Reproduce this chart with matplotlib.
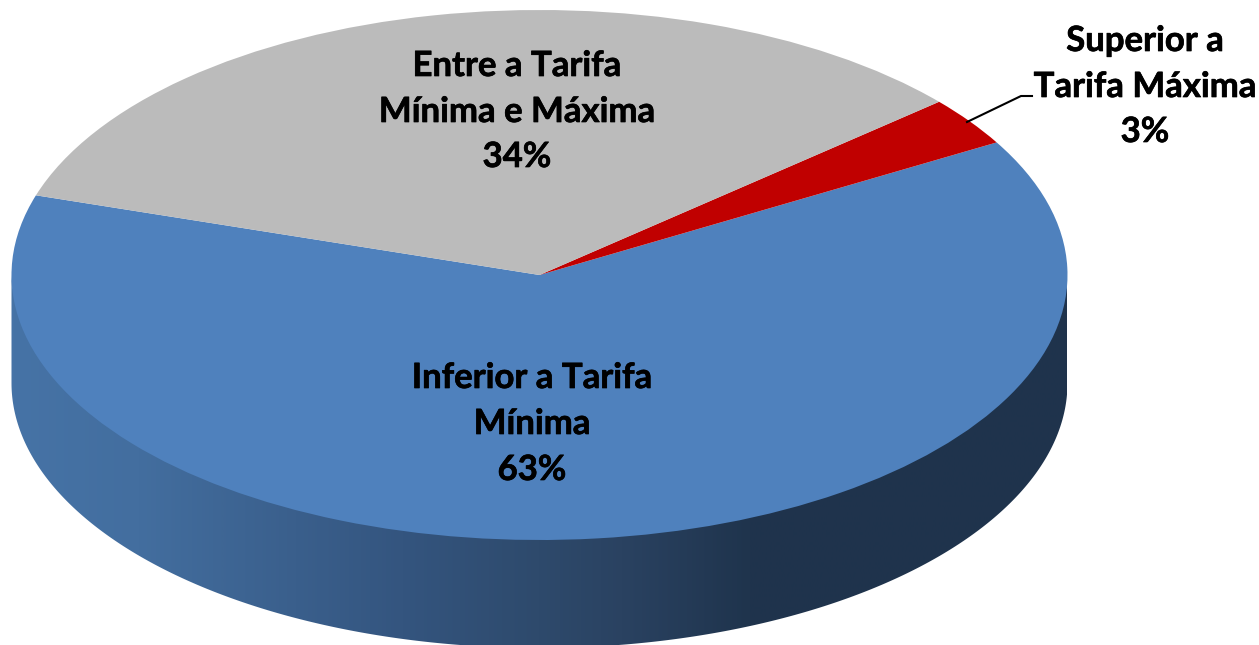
import numpy as np
import matplotlib
matplotlib.use("Agg")
import matplotlib.pyplot as plt
import matplotlib.patheffects as pe
from matplotlib.patches import Polygon
from matplotlib.colors import LinearSegmentedColormap

# Data
categories = ["Inferior a Tarifa\nMínima", "Superior a\nTarifa Máxima", "Entre a Tarifa\nMínima e Máxima"]
values = [63.2, 3.0, 33.8]
percent_labels = ["63%", "3%", "34%"]
colors = ["#4F81BD", "#C00000", "#BBBBBB"]

W, H = 1259, 645
CX, CY, RX, RY, DEPTH = 539.5, 275.0, 528.0, 265.0, 108.0
START = 162.5

def X(p):
    return (p - CX) / RX

def Y(p):
    return (CY - p) / RY

fig = plt.figure(figsize=(W / 100, H / 100), dpi=100, facecolor="white")
ax = fig.add_axes([0, 0, 1, 1])

ax.pie(values, colors=colors, startangle=START, counterclock=True, radius=1,
       wedgeprops={"linewidth": 0, "antialiased": True, "zorder": 2})

# Side wall of the disc, shaded from left to right
theta = np.radians(np.linspace(180, 360, 361))
d = DEPTH / RY
wall_x = np.r_[np.cos(theta), np.cos(theta)[::-1]]
wall_y = np.r_[np.sin(theta) + 0.02, (np.sin(theta) - d)[::-1]]
wall = Polygon(np.c_[wall_x, wall_y], closed=True, transform=ax.transData,
               facecolor="none", edgecolor="none")
ax.add_patch(wall)
cmap = LinearSegmentedColormap.from_list(
    "wall", [(0.0, "#4673A6"), (0.12, "#436E9F"), (0.37, "#34557F"),
             (0.50, "#2E4A6C"), (0.58, "#2A4261"), (0.70, "#1F344D"), (1.0, "#1F334C")])
img = ax.imshow(np.linspace(0, 1, 512)[None, :], cmap=cmap, aspect="auto",
                extent=(-1, 1, -1 - d, 1), zorder=1, interpolation="bilinear")
img.set_clip_path(wall)

ax.set_aspect("auto")
ax.set_xlim(X(0), X(W))
ax.set_ylim(Y(H), Y(0))
ax.axis("off")

# Leader line for the small slice
ax.plot([X(967), X(1021), X(1032)], [Y(122), Y(96), Y(96)], color="black", lw=1.5,
        zorder=3, solid_joinstyle="round")

# Labels
label_centres = [(532, 401), (1145, 64), (517, 89)]
pct_y = [470, 132, 157]
stroke = [pe.withStroke(linewidth=0.5, foreground="black")]
for cat, pct, (lx, ly), py in zip(categories, percent_labels, label_centres, pct_y):
    l1, l2 = cat.split("\n")
    for txt, yy in [(l1, ly - 23), (l2, ly + 23), (pct, py)]:
        ax.text(X(lx), Y(yy), txt, ha="center", va="center", fontsize=25,
                fontweight="bold", family="Lato", color="black", zorder=4,
                path_effects=stroke)

fig.savefig("out.png", dpi=100, facecolor="white")
